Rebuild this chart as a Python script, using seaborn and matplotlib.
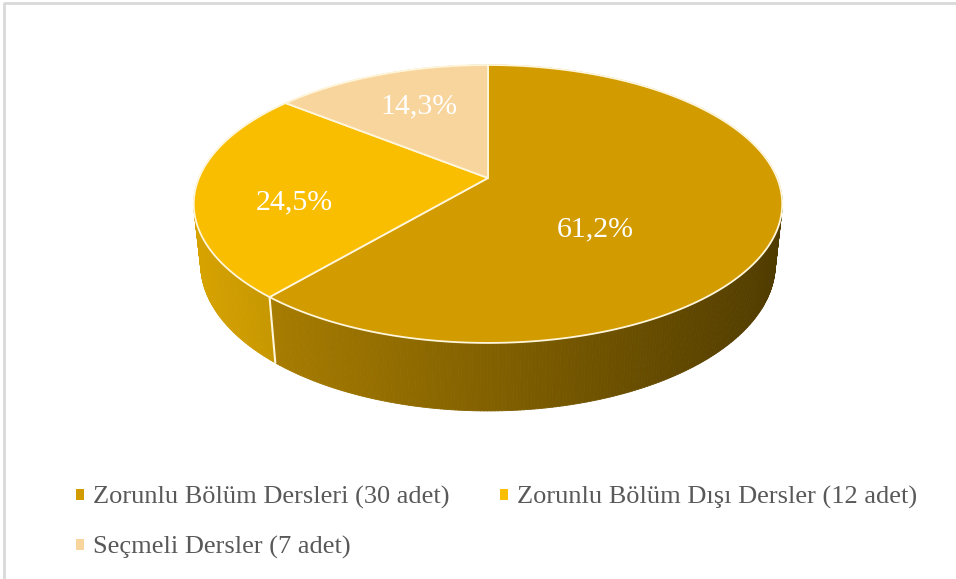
import numpy as np
import matplotlib.pyplot as plt
import seaborn as sns
from matplotlib.patches import Polygon, Patch
from matplotlib.collections import PolyCollection
from matplotlib.colors import to_rgb

sns.set_theme(style="white")
plt.rcParams['font.family'] = ['Liberation Serif', 'DejaVu Serif']

# veriler
categories = ["Zorunlu Bölüm Dersleri (30 adet)",
              "Zorunlu Bölüm Dışı Dersler (12 adet)",
              "Seçmeli Dersler (7 adet)"]
counts = [30, 12, 7]
colors = ["#D29C00", "#FABE00", "#F9D59E"]

# 3B pasta icin perspektif (piksel koordinatlari)
cx, cy = 488, 178
F, D = 1370, 4.74
s_el, c_el = 0.464, 0.886
h_side = 0.237
# etiket yerleri: yaricap orani ve derinlik
lab_r = [0.39, 0.67, 0.61]
lab_h = [0.126, 0.062, -0.02]


def proj(theta, r=1.0, h=0.0):
    u = r * np.cos(theta)
    v = r * np.sin(theta)
    yup = v * s_el - h * c_el
    z = D + v * c_el + h * s_el
    return cx + F * u / z, cy - F * yup / z


def shade(col, x):
    t = np.clip((x - 194) / (782 - 194), 0, 1)
    f = 0.86 - 0.48 * t
    return tuple(np.array(to_rgb(col)) * f)


fig = plt.figure(figsize=(9.56, 5.79), dpi=100)
ax = fig.add_axes([0, 0, 1, 1])
ax.set_xlim(0, 956)
ax.set_ylim(579, 0)
ax.axis('off')

fracs = np.array(counts) / sum(counts)
starts = np.deg2rad(90 - 360 * np.concatenate([[0], np.cumsum(fracs)[:-1]]))
ends = starts - 2 * np.pi * fracs

# yan yuzeyler
polys, pcols, depth = [], [], []
for st, en, col in zip(starts, ends, colors):
    n = max(int(abs(st - en) / np.pi * 300), 10)
    th = np.linspace(st, en, n)
    for a, b in zip(th[:-1], th[1:]):
        p = [proj(a), proj(b), proj(b, h=h_side), proj(a, h=h_side)]
        polys.append(p)
        xm = np.mean([q[0] for q in p])
        pcols.append(shade(col, xm))
        depth.append(np.sin((a + b) / 2))
order = np.argsort(depth)[::-1]
pc = PolyCollection([polys[i] for i in order], facecolors=[pcols[i] for i in order],
                    edgecolors=[pcols[i] for i in order], linewidths=0.6)
ax.add_collection(pc)

# dilim sinirlari (yan yuzey)
for st in starts:
    if np.sin(st) < 0:
        x0, y0 = proj(st)
        x1, y1 = proj(st, h=h_side)
        ax.plot([x0, x1], [y0, y1], color="#FFF6DC", lw=1.5)

# ust yuzey
for i, (st, en, col, fr) in enumerate(zip(starts, ends, colors, fracs)):
    th = np.linspace(st, en, 200)
    pts = [proj(0, 0)] + [proj(t) for t in th]
    ax.add_patch(Polygon(pts, closed=True, facecolor=col, edgecolor="#FFF6DC", lw=1.3))
    mid = (st + en) / 2
    lx, ly = proj(mid, lab_r[i], lab_h[i])
    ax.text(lx, ly, f"{fr * 100:.1f}%".replace('.', ','), color="white",
            fontsize=21.5, ha="center", va="center")

# cerceve
ax.plot([4.5, 4.5, 956], [579, 2.5, 2.5], color="#D9D9D9", lw=2)

handles = [Patch(facecolor=c, edgecolor='none') for c in colors]
h_ord = [handles[0], handles[2], handles[1]]
l_ord = [categories[0], categories[2], categories[1]]
leg = ax.legend(h_ord, l_ord, ncol=2, loc="upper left", bbox_to_anchor=(0.0795, 0.16),
                frameon=False, fontsize=19, labelcolor="#595959",
                handlelength=0.3, handleheight=0.3, handletextpad=0.35,
                columnspacing=1.9, labelspacing=1.02, borderpad=0, borderaxespad=0)

fig.savefig("out.png", dpi=100)
